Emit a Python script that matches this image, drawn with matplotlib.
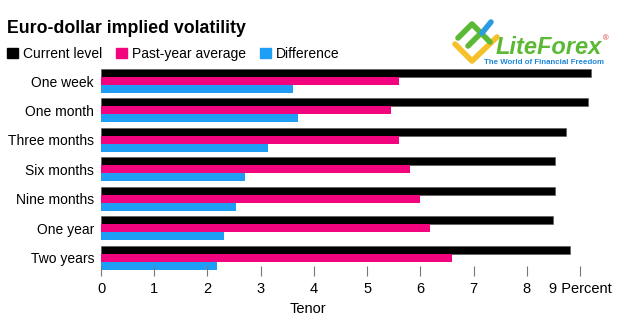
import matplotlib.pyplot as plt
import numpy as np
from matplotlib.lines import Line2D
from matplotlib.patches import Patch

plt.rcParams['font.family'] = ['Liberation Sans', 'DejaVu Sans']

# Data (percent)
tenors = ["One week", "One month", "Three months", "Six months",
          "Nine months", "One year", "Two years"]
current_level = [9.21, 9.15, 8.73, 8.52, 8.53, 8.50, 8.81]
past_year_avg = [5.59, 5.44, 5.59, 5.80, 6.00, 6.18, 6.60]
difference = [3.60, 3.70, 3.13, 2.71, 2.54, 2.31, 2.18]
xticks = [0, 1, 2, 3, 4, 5, 6, 7, 8, 9]
xtick_labels = ["0", "1", "2", "3", "4", "5", "6", "7", "8", "9 Percent"]

BLACK = "#000000"
PINK = "#f2047e"
BLUE = "#1f9ef6"

W, H = 628, 326
fig = plt.figure(figsize=(W / 100, H / 100), dpi=100)
# axes in pixel terms: left 101, right 612, top 69, bottom 276
ax = fig.add_axes([101 / W, (H - 276) / H, (612 - 101) / W, (276 - 69) / H])

y = np.arange(len(tenors))
h = 0.272
ax.barh(y - h, current_level, height=h, color=BLACK, edgecolor="#555555", linewidth=0.4)
ax.barh(y, past_year_avg, height=h, color=PINK, linewidth=0)
ax.barh(y + h, difference, height=h, color=BLUE, linewidth=0)

ax.set_xlim(0, 9.6)
ax.set_ylim(6.62, -0.408)
ax.set_yticks(y)
ax.set_yticklabels(tenors, fontsize=10)
ax.tick_params(axis='y', length=0, pad=5)
ax.set_xticks(xticks)
ax.set_xticklabels(xtick_labels, fontsize=10.5)
ax.tick_params(axis='x', direction='in', length=7, color="#777777", pad=4)
for s in ax.spines.values():
    s.set_visible(False)

ax.set_xlabel("Tenor", fontsize=10.5)
ax.xaxis.set_label_coords(0.405, -0.125)

fig.text(7 / W, 1 - 33 / H, "Euro-dollar implied volatility", fontsize=12.8,
         fontweight='bold', va='baseline', ha='left')

handles = [Patch(color=BLACK), Patch(color=PINK), Patch(color=BLUE)]
fig.legend(handles, ["Current level", "Past-year average", "Difference"],
           loc='center left', bbox_to_anchor=(7 / W, 1 - 54 / H), ncol=3,
           frameon=False, fontsize=10, handlelength=0.8, handleheight=0.8,
           handletextpad=0.35, columnspacing=1.0, borderaxespad=0, borderpad=0)

# logo
fig.text(496 / W, 1 - 47 / H, "LiteForex", fontsize=17, fontweight='bold',
         fontstyle='italic', color="#5bb935", va='center', ha='left')
fig.text(603 / W, 1 - 39 / H, "®", fontsize=5.5, color="#e03030", va='center', ha='left')
fig.text(544 / W, 1 - 62 / H, "The World of Financial Freedom", fontsize=5.7,
         fontweight='bold', color="#1e88d8", va='center', ha='center')
fig.add_artist(Line2D([455 / W, 472 / W, 497 / W], [1 - 44 / H, 1 - 61 / H, 1 - 37 / H],
                      color="#f5c02a", linewidth=4, solid_capstyle='round'))
fig.add_artist(Line2D([458 / W, 472 / W, 490 / W], [1 - 38 / H, 1 - 24 / H, 1 - 42 / H],
                      color="#5bb935", linewidth=4, solid_capstyle='round'))
fig.add_artist(Line2D([468 / W, 482 / W], [1 - 46 / H, 1 - 32 / H],
                      color="#5bb935", linewidth=4, solid_capstyle='round'))
fig.add_artist(Line2D([482 / W, 491 / W], [1 - 33 / H, 1 - 22 / H],
                      color="#2a9be0", linewidth=4, solid_capstyle='round'))

fig.savefig("out.png", dpi=100)
